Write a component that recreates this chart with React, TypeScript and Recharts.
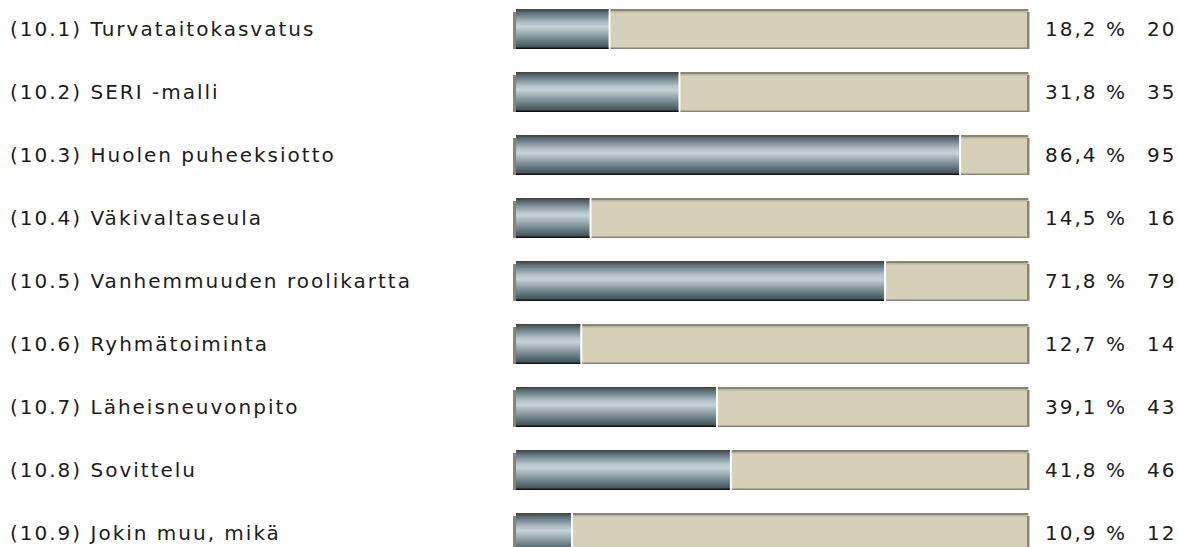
import { Bar, BarChart, LabelList, XAxis, YAxis } from "recharts";

const labels = [
  "(10.1) Turvataitokasvatus",
  "(10.2) SERI -malli",
  "(10.3) Huolen puheeksiotto",
  "(10.4) Väkivaltaseula",
  "(10.5) Vanhemmuuden roolikartta",
  "(10.6) Ryhmätoiminta",
  "(10.7) Läheisneuvonpito",
  "(10.8) Sovittelu",
  "(10.9) Jokin muu, mikä",
];
const percents = [18.2, 31.8, 86.4, 14.5, 71.8, 12.7, 39.1, 41.8, 10.9];
const counts = [20, 35, 95, 16, 79, 14, 43, 46, 12];

const data = labels.map((name, i) => ({
  name,
  pct: percents[i],
  rest: 100 - percents[i],
  count: counts[i],
}));

const FONT = "'DejaVu Sans', Verdana, sans-serif";

function FillShape(props: any) {
  const { x, y, width, height } = props;
  return (
    <g>
      <rect x={x - 2} y={y + 3} width={3} height={height - 3} fill="#8a8472" />
      <rect x={x + 1} y={y} width={width - 1} height={height} fill="url(#barGrad)" />
      <rect x={x + 1} y={y} width={width - 1} height={1.5} fill="#4a4838" />
      <rect x={x + 1} y={y + height - 1.5} width={width - 1} height={1.5} fill="#141414" />
    </g>
  );
}

function RestShape(props: any) {
  const { x, y, width, height } = props;
  const left = x + 2;
  const w = width - 2;
  return (
    <g>
      <rect x={left} y={y} width={w} height={height} fill="#d5d0b7" />
      <rect x={left} y={y} width={w - 1} height={2} fill="#8b8575" />
      <rect x={left} y={y + 2} width={w - 2} height={1.5} fill="#b9b59d" />
      <rect x={left} y={y + height - 1.5} width={w} height={1.5} fill="#8b8575" />
      <rect x={x + width - 2} y={y + 3} width={2.5} height={height - 3} fill="#8b8575" />
    </g>
  );
}

function NameTick(props: any) {
  const { y, payload } = props;
  return (
    <text
      x={10}
      y={y}
      dominantBaseline="central"
      fontFamily={FONT}
      fontSize={20}
      letterSpacing={2}
      fill="#1c1c1c"
    >
      {payload.value}
    </text>
  );
}

function ValueLabel(props: any) {
  const { y, height, index } = props;
  const cy = y + height / 2;
  const p = percents[index].toFixed(1).replace(".", ",") + " %";
  return (
    <g fontFamily={FONT} fontSize={20} letterSpacing={2} fill="#1c1c1c">
      <text x={1045} y={cy} dominantBaseline="central">{p}</text>
      <text x={1147} y={cy} dominantBaseline="central">{counts[index]}</text>
    </g>
  );
}

export default function App() {
  return (
    <div
      style={{
        position: "fixed",
        top: 0,
        left: 0,
        width: 1179,
        height: 547,
        overflow: "hidden",
        background: "#fff",
      }}
    >
      <div style={{ position: "absolute", top: -3.5, left: 0 }}>
        <BarChart
          width={1179}
          height={567}
          data={data}
          layout="vertical"
          margin={{ top: 0, right: 150, bottom: 0, left: 10 }}
        >
          <defs>
            <linearGradient id="barGrad" x1="0" y1="0" x2="0" y2="1">
              <stop offset="0%" stopColor="#3c4c54" />
              <stop offset="15%" stopColor="#6d808a" />
              <stop offset="35%" stopColor="#b4c3ca" />
              <stop offset="45%" stopColor="#c6d2d7" />
              <stop offset="65%" stopColor="#8e9fa6" />
              <stop offset="85%" stopColor="#5a6c74" />
              <stop offset="100%" stopColor="#3a484e" />
            </linearGradient>
          </defs>
          <XAxis type="number" domain={[0, 100]} hide />
          <YAxis
            type="category"
            dataKey="name"
            width={505}
            axisLine={false}
            tickLine={false}
            tick={<NameTick />}
            interval={0}
          />
          <Bar
            dataKey="pct"
            stackId="a"
            barSize={40}
            shape={<FillShape />}
            isAnimationActive={false}
          />
          <Bar
            dataKey="rest"
            stackId="a"
            barSize={40}
            shape={<RestShape />}
            isAnimationActive={false}
          >
            <LabelList dataKey="count" content={<ValueLabel />} />
          </Bar>
        </BarChart>
      </div>
    </div>
  );
}
